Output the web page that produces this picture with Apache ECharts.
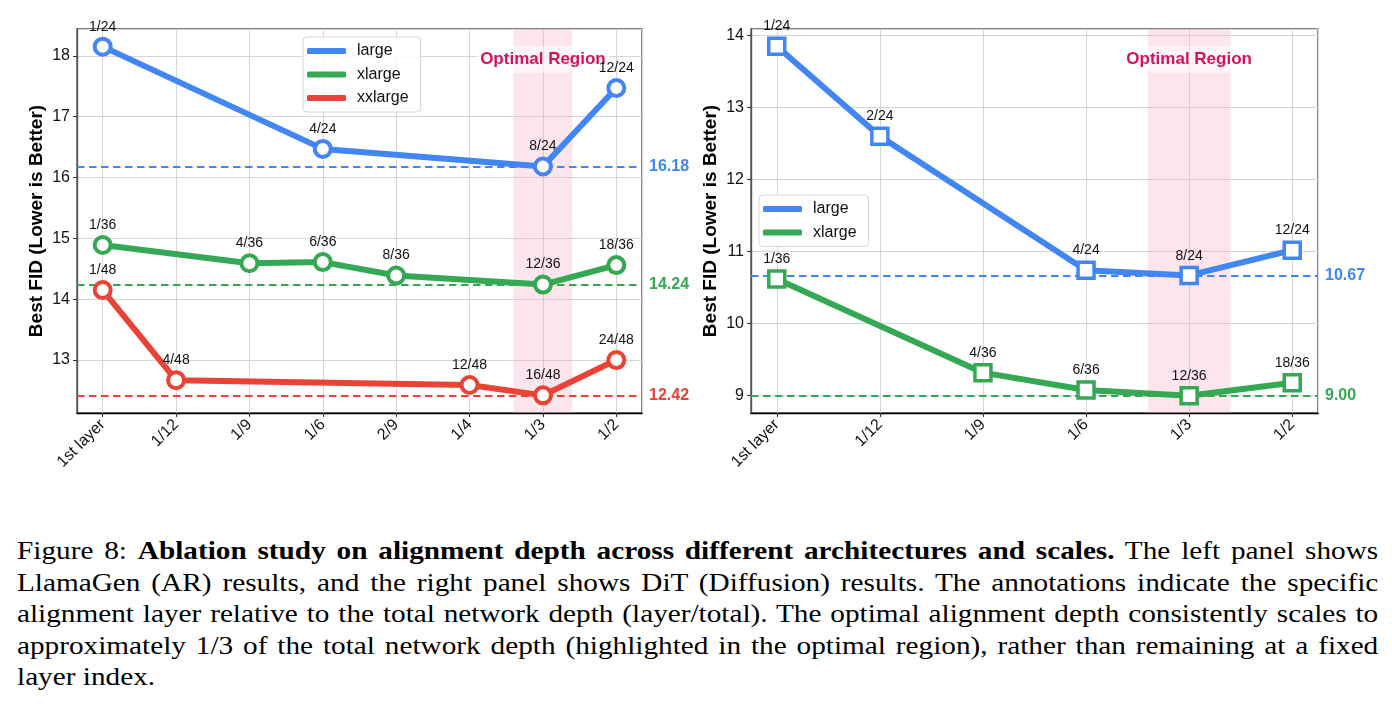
<!DOCTYPE html>
<html>
<head>
<meta charset="utf-8">
<script src="https://cdn.jsdelivr.net/npm/echarts@6/dist/echarts.min.js"></script>
<style>
    html, body { margin: 0; padding: 0; background: #fff; }
    #main { position: absolute; left: 0; top: 0; width: 1392px; height: 520px; }
    /* 图注：Times 字体，横向略拉宽 */
    #caption { position: absolute; left: 17px; top: 535px; width: 1210px;
        transform: scaleX(1.125); transform-origin: left top;
        font-family: 'Liberation Serif', 'Times New Roman', serif; font-size: 26px; line-height: 31.5px; color: #000; }
    #caption div { white-space: nowrap; text-align: justify; text-align-last: justify; }
    #caption div.last { text-align-last: left; }
</style>
</head>
<body>
<div id="main"></div>
<div id="caption">
    <div>Figure 8: <b>Ablation study on alignment depth across different architectures and scales.</b> The left panel shows</div>
    <div>LlamaGen (AR) results, and the right panel shows DiT (Diffusion) results. The annotations indicate the specific</div>
    <div>alignment layer relative to the total network depth (layer/total). The optimal alignment depth consistently scales to</div>
    <div>approximately 1/3 of the total network depth (highlighted in the optimal region), rather than remaining at a fixed</div>
    <div class="last">layer index.</div>
</div>
<script>
// 横轴类目
var leftCats = ['1st layer', '1/12', '1/9', '1/6', '2/9', '1/4', '1/3', '1/2'];
var rightCats = ['1st layer', '1/12', '1/9', '1/6', '1/3', '1/2'];

// 左图 LlamaGen (AR)
var leftLargeAt = ['1st layer', '1/6', '1/3', '1/2'];
var leftLargeFid = [18.15, 16.47, 16.18, 17.47];
var leftLargeTag = ['1/24', '4/24', '8/24', '12/24'];
var leftXlargeAt = ['1st layer', '1/9', '1/6', '2/9', '1/3', '1/2'];
var leftXlargeFid = [14.89, 14.59, 14.61, 14.39, 14.24, 14.56];
var leftXlargeTag = ['1/36', '4/36', '6/36', '8/36', '12/36', '18/36'];
var leftXxlargeAt = ['1st layer', '1/12', '1/4', '1/3', '1/2'];
var leftXxlargeFid = [14.15, 12.67, 12.59, 12.42, 13.00];
var leftXxlargeTag = ['1/48', '4/48', '12/48', '16/48', '24/48'];
var leftBest = [16.18, 14.24, 12.42];

// 右图 DiT (Diffusion)
var rightLargeAt = ['1st layer', '1/12', '1/6', '1/3', '1/2'];
var rightLargeFid = [13.85, 12.60, 10.74, 10.67, 11.02];
var rightLargeTag = ['1/24', '2/24', '4/24', '8/24', '12/24'];
var rightXlargeAt = ['1st layer', '1/9', '1/6', '1/3', '1/2'];
var rightXlargeFid = [10.62, 9.32, 9.08, 9.00, 9.18];
var rightXlargeTag = ['1/36', '4/36', '6/36', '12/36', '18/36'];
var rightBest = [10.67, 9.00];

var seriesNames = ['large', 'xlarge', 'xxlarge'];
var colors = ['#4285f4', '#34a853', '#ea4335'];
var regionAt = '1/3';
var regionText = 'Optimal Region';
var yTitle = 'Best FID (Lower is Better)';

var FONT = "'Liberation Sans', Arial, sans-serif";

// 类目名 -> [下标, 值]
function toPoints(cats, at, vals) {
    var pts = [];
    for (var i = 0; i < at.length; i++) {
        pts.push([cats.indexOf(at[i]), vals[i]]);
    }
    return pts;
}

function isWhole(v) {
    return Math.abs(v - Math.round(v)) < 1e-6;
}

function xAxisOf(gridIndex, cats, pad) {
    return {
        type: 'value', gridIndex: gridIndex,
        min: -pad, max: cats.length - 1 + pad,
        minInterval: 1, maxInterval: 1,
        axisLine: { show: true, onZero: false, lineStyle: { color: '#000', width: 1.4 } },
        axisTick: { show: true, length: 4, lineStyle: { color: '#333', width: 1 } },
        splitLine: { show: true, lineStyle: { color: '#d6d6d6', width: 1 } },
        axisLabel: {
            rotate: 45, margin: 9, fontSize: 16, color: '#111', fontFamily: FONT,
            showMinLabel: false, showMaxLabel: false,
            formatter: function (v) {
                if (!isWhole(v)) return '';
                return cats[Math.round(v)] || '';
            }
        }
    };
}

function yAxisOf(gridIndex, min, max) {
    return {
        type: 'value', gridIndex: gridIndex,
        min: min, max: max,
        minInterval: 1, maxInterval: 1,
        name: yTitle, nameLocation: 'middle', nameGap: 31,
        nameTextStyle: { fontSize: 19, fontWeight: 'bold', color: '#000', fontFamily: FONT },
        axisLine: { show: true, onZero: false, lineStyle: { color: '#555', width: 1.4 } },
        axisTick: { show: true, length: 4, lineStyle: { color: '#333', width: 1 } },
        splitLine: { show: true, lineStyle: { color: '#d6d6d6', width: 1 } },
        axisLabel: {
            fontSize: 16, color: '#111', margin: 7, fontFamily: FONT,
            showMinLabel: false, showMaxLabel: false,
            formatter: function (v) { return isWhole(v) ? String(Math.round(v)) : ''; }
        }
    };
}

function lineSeries(name, color, gridIndex, pts, tags, symbol) {
    return {
        type: 'line', name: name,
        xAxisIndex: gridIndex, yAxisIndex: gridIndex,
        data: pts, z: 5,
        symbol: symbol, symbolSize: 16,
        showAllSymbol: true,
        lineStyle: { color: color, width: 6 },
        itemStyle: { color: '#fff', borderColor: color, borderWidth: symbol === 'rect' ? 3.5 : 4 },
        label: {
            show: true, position: 'top', distance: 3,
            fontSize: 14, color: '#111', fontFamily: FONT,
            formatter: function (p) { return tags[p.dataIndex]; }
        },
        labelLayout: { hideOverlap: false },
        emphasis: { disabled: true }
    };
}

// 最优值虚线 + 最优区域
function guideSeries(gridIndex, cats, best) {
    var c = cats.indexOf(regionAt);
    return {
        type: 'line', xAxisIndex: gridIndex, yAxisIndex: gridIndex,
        data: [], z: 2, silent: true,
        markLine: {
            silent: true, symbol: ['none', 'none'],
            data: best.map(function (v, i) {
                return {
                    yAxis: v,
                    lineStyle: { color: colors[i], type: [7.5, 4.5], width: 2 },
                    label: {
                        position: 'end', distance: 7, formatter: v.toFixed(2),
                        color: colors[i], fontWeight: 'bold', fontSize: 16, fontFamily: FONT
                    }
                };
            })
        },
        markArea: {
            silent: true,
            itemStyle: { color: 'rgba(248, 160, 185, 0.28)' },
            label: {
                show: true, position: 'insideTop', distance: 17,
                color: '#d4145a', fontWeight: 'bold', fontSize: 17, fontFamily: FONT,
                backgroundColor: 'rgba(255,255,255,0.55)', padding: [5, 4]
            },
            data: [[{ xAxis: c - 0.4, name: regionText }, { xAxis: c + 0.4 }]]
        }
    };
}

function legendOf(left, top, names) {
    return {
        orient: 'vertical', left: left, top: top,
        data: names.map(function (n, i) {
            return { name: n, icon: 'roundRect', itemStyle: { color: colors[i], borderWidth: 0 } };
        }),
        itemWidth: 39, itemHeight: 6, itemGap: 7.5,
        padding: [6, 12, 6, 4],
        borderColor: '#d6d6d6', borderWidth: 1, borderRadius: 4,
        backgroundColor: 'rgba(255,255,255,0.85)',
        textStyle: { fontSize: 16, color: '#111', fontFamily: FONT, padding: [0, 0, 0, 6] },
        selectedMode: false
    };
}

var myChart = echarts.init(document.getElementById('main'), null, { renderer: 'canvas' });

var option = {
    animation: false,
    textStyle: { fontFamily: FONT },
    grid: [
        { left: 77, top: 29, width: 565, height: 384, show: true, borderColor: '#555', borderWidth: 1.4, backgroundColor: 'transparent' },
        { left: 751, top: 29, width: 567, height: 384, show: true, borderColor: '#555', borderWidth: 1.4, backgroundColor: 'transparent' }
    ],
    xAxis: [xAxisOf(0, leftCats, 0.35), xAxisOf(1, rightCats, 0.25)],
    yAxis: [yAxisOf(0, 12.13, 18.44), yAxisOf(1, 8.76, 14.09)],
    legend: [
        legendOf(303, 37, seriesNames),
        legendOf(759, 195, seriesNames.slice(0, 2))
    ],
    series: [
        guideSeries(0, leftCats, leftBest),
        guideSeries(1, rightCats, rightBest),
        lineSeries('large', colors[0], 0, toPoints(leftCats, leftLargeAt, leftLargeFid), leftLargeTag, 'circle'),
        lineSeries('xlarge', colors[1], 0, toPoints(leftCats, leftXlargeAt, leftXlargeFid), leftXlargeTag, 'circle'),
        lineSeries('xxlarge', colors[2], 0, toPoints(leftCats, leftXxlargeAt, leftXxlargeFid), leftXxlargeTag, 'circle'),
        lineSeries('large', colors[0], 1, toPoints(rightCats, rightLargeAt, rightLargeFid), rightLargeTag, 'rect'),
        lineSeries('xlarge', colors[1], 1, toPoints(rightCats, rightXlargeAt, rightXlargeFid), rightXlargeTag, 'rect')
    ]
};
myChart.setOption(option);
</script>
</body>
</html>
